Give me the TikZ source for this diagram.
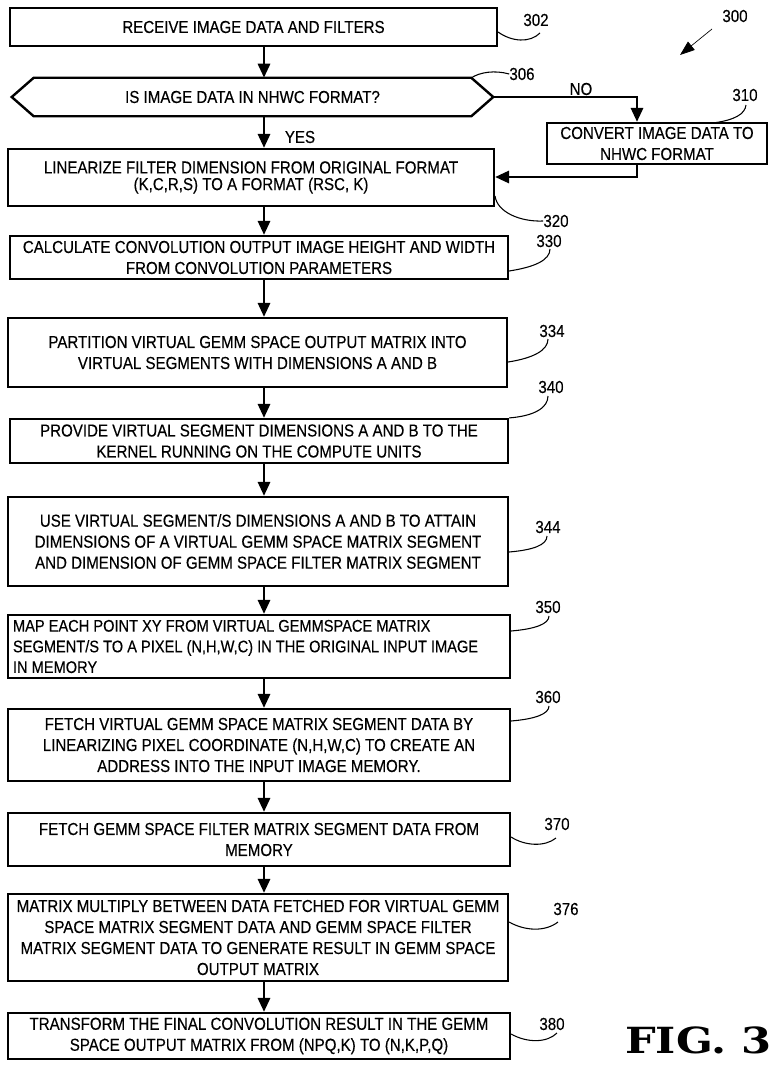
\documentclass[tikz,border=0pt]{standalone}
\usepackage{fontspec}
\setmainfont{Liberation Sans}[FakeStretch=0.87,FakeBold=0.3]
\newfontfamily\figfont{DejaVu Serif}[FakeStretch=1.2]
\usetikzlibrary{arrows.meta}
\begin{document}
\begin{tikzpicture}[x=0.75pt,y=-0.75pt,
  txt/.style={font={\fontsize{13}{15.75}\selectfont}},
  box/.style={draw, line width=1.6pt, inner sep=0pt, align=center, txt},
  flow/.style={line width=2.2pt, -{Triangle[length=10.5pt,width=9pt]}},
  lbl/.style={line width=0.8pt},
  num/.style={inner sep=0pt, txt}]
\useasboundingbox (0,0) rectangle (775,1068);
\coordinate (ax) at (264,0);
\coordinate (nox) at (637,0);
\coordinate (ry) at (0,177);

\node[box, minimum width=487*0.75pt, minimum height=38*0.75pt] (b302) at (253.5,27) {RECEIVE IMAGE DATA AND FILTERS};
\node[inner sep=0pt, txt, minimum width=481*0.75pt, minimum height=38*0.75pt] (b306) at (252.5,97) {IS IMAGE DATA IN NHWC FORMAT?};
\draw[line width=1.8pt] (b306.west) -- ([xshift=22*0.75pt]b306.north west) -- ([xshift=-22*0.75pt]b306.north east) -- (b306.east) -- ([xshift=-22*0.75pt]b306.south east) -- ([xshift=22*0.75pt]b306.south west) -- cycle;
\node[box, minimum width=220*0.75pt, minimum height=41*0.75pt] (b310) at (657,143.5) {CONVERT IMAGE DATA TO\\NHWC FORMAT};
\node[box, font={\fontsize{13}{12.5}\selectfont}, minimum width=486*0.75pt, minimum height=57*0.75pt] (b320) at (251,177.5) {LINEARIZE FILTER DIMENSION FROM ORIGINAL FORMAT\\(K,C,R,S) TO A FORMAT (RSC, K)};
\node[box, minimum width=498*0.75pt, minimum height=43*0.75pt] (b330) at (259,257.5) {CALCULATE CONVOLUTION OUTPUT IMAGE HEIGHT AND WIDTH\\FROM CONVOLUTION PARAMETERS};
\node[box, minimum width=499*0.75pt, minimum height=69*0.75pt] (b334) at (257.5,352.5) {PARTITION VIRTUAL GEMM SPACE OUTPUT MATRIX INTO\\VIRTUAL SEGMENTS WITH DIMENSIONS A AND B};
\node[box, minimum width=498*0.75pt, minimum height=44*0.75pt] (b340) at (259,441) {PROVIDE VIRTUAL SEGMENT DIMENSIONS A AND B TO THE\\KERNEL RUNNING ON THE COMPUTE UNITS};
\node[box, minimum width=500*0.75pt, minimum height=89*0.75pt] (b344) at (258,541.5) {USE VIRTUAL SEGMENT/S DIMENSIONS A AND B TO ATTAIN\\DIMENSIONS OF A VIRTUAL GEMM SPACE MATRIX SEGMENT\\AND DIMENSION OF GEMM SPACE FILTER MATRIX SEGMENT};
\node[box, align=flush left, font={\fontsize{12.6}{15.5}\selectfont}, text width=492*0.75pt, minimum width=502*0.75pt, minimum height=63*0.75pt] (b350) at (259,646.5) {MAP EACH POINT XY FROM VIRTUAL GEMMSPACE MATRIX\\SEGMENT/S TO A PIXEL (N,H,W,C) IN THE ORIGINAL INPUT IMAGE\\IN MEMORY};
\node[box, minimum width=502*0.75pt, minimum height=72*0.75pt] (b360) at (259,745) {FETCH VIRTUAL GEMM SPACE MATRIX SEGMENT DATA BY\\LINEARIZING PIXEL COORDINATE (N,H,W,C) TO CREATE AN\\ADDRESS INTO THE INPUT IMAGE MEMORY.};
\node[box, minimum width=502*0.75pt, minimum height=53*0.75pt] (b370) at (259,839.5) {FETCH GEMM SPACE FILTER MATRIX SEGMENT DATA FROM\\MEMORY};
\node[box, minimum width=500*0.75pt, minimum height=87*0.75pt] (b376) at (258,937.5) {MATRIX MULTIPLY BETWEEN DATA FETCHED FOR VIRTUAL GEMM\\SPACE MATRIX SEGMENT DATA AND GEMM SPACE FILTER\\MATRIX SEGMENT DATA TO GENERATE RESULT IN GEMM SPACE\\OUTPUT MATRIX};
\node[box, minimum width=502*0.75pt, minimum height=46*0.75pt] (b380) at (259,1036) {TRANSFORM THE FINAL CONVOLUTION RESULT IN THE GEMM\\SPACE OUTPUT MATRIX FROM (NPQ,K) TO (N,K,P,Q)};

% flow arrows
\draw[flow] (b302.south -| ax) -- (b306.north -| ax);
\draw[flow] (b306.south -| ax) -- (b320.north -| ax);
\draw[flow] (b306.east) -| (b310.north -| nox);
\draw[flow] (b310.south -| nox) |- (b320.east |- ry);
\draw[flow] (b320.south -| ax) -- (b330.north -| ax);
\draw[flow] (b330.south -| ax) -- (b334.north -| ax);
\draw[flow] (b334.south -| ax) -- (b340.north -| ax);
\draw[flow] (b340.south -| ax) -- (b344.north -| ax);
\draw[flow] (b344.south -| ax) -- (b350.north -| ax);
\draw[flow] (b350.south -| ax) -- (b360.north -| ax);
\draw[flow] (b360.south -| ax) -- (b370.north -| ax);
\draw[flow] (b370.south -| ax) -- (b376.north -| ax);
\draw[flow] (b376.south -| ax) -- (b380.north -| ax);

\node[num] (yes) at (300,137) {YES};
\node[num] (no) at (581,89) {NO};

% reference numerals
\node[num] (l300) at (735,16) {300};
\coordinate (t300) at (712,29);
\coordinate (h300) at (680,55);
\draw[line width=0.5pt, -{Triangle[length=11pt,width=8pt]}] (t300) -- (h300);

\node[num] (l302) at (536,20) {302};
\draw[lbl] (b302.east |- 0,32) .. controls (512,42) and (530,43) .. (540,33);
\node[num] (l306) at (522,74) {306};
\draw[lbl] (471,78) .. controls (480,72) and (495,70) .. (l306.west);
\node[num] (l310) at (745,95) {310};
\draw[lbl] (713,123) .. controls (735,120) and (745,114) .. (746,105);
\node[num] (l320) at (556,221) {320};
\draw[lbl] (b320.east |- 0,196) .. controls (497,212) and (520,222) .. (l320.west);
\node[num] (l330) at (549,241) {330};
\draw[lbl] (b330.east |- 0,271) .. controls (535,267) and (550,260) .. (550,249);
\node[num] (l334) at (552,331) {334};
\draw[lbl] (b334.east |- 0,362) .. controls (534,358) and (548,350) .. (548,339);
\node[num] (l340) at (551,387) {340};
\draw[lbl] (b340.north east) .. controls (534,416) and (548,408) .. (548,396);
\node[num] (l344) at (548,527) {344};
\draw[lbl] (b344.east |- 0,552) .. controls (533,550) and (547,545) .. (547,536);
\node[num] (l350) at (548,607) {350};
\draw[lbl] (b350.east |- 0,631) .. controls (535,629) and (549,624) .. (549,616);
\node[num] (l360) at (548,697) {360};
\draw[lbl] (b360.east |- 0,721) .. controls (535,719) and (549,714) .. (549,706);
\node[num] (l370) at (557,824) {370};
\draw[lbl] (b370.east |- 0,837) .. controls (525,846) and (545,847) .. (556,838);
\node[num] (l376) at (566,909) {376};
\draw[lbl] (b376.east |- 0,922) .. controls (525,931) and (545,932) .. (558,922);
\node[num] (l380) at (552,1024) {380};
\draw[lbl] (b380.east |- 0,1034) .. controls (527,1043) and (547,1043) .. (557,1033);

\node[inner sep=0pt, anchor=base west, font={\figfont\bfseries\fontsize{27}{30}\selectfont}] (fig) at (625,1053) {FIG. 3};
\end{tikzpicture}
\end{document}
